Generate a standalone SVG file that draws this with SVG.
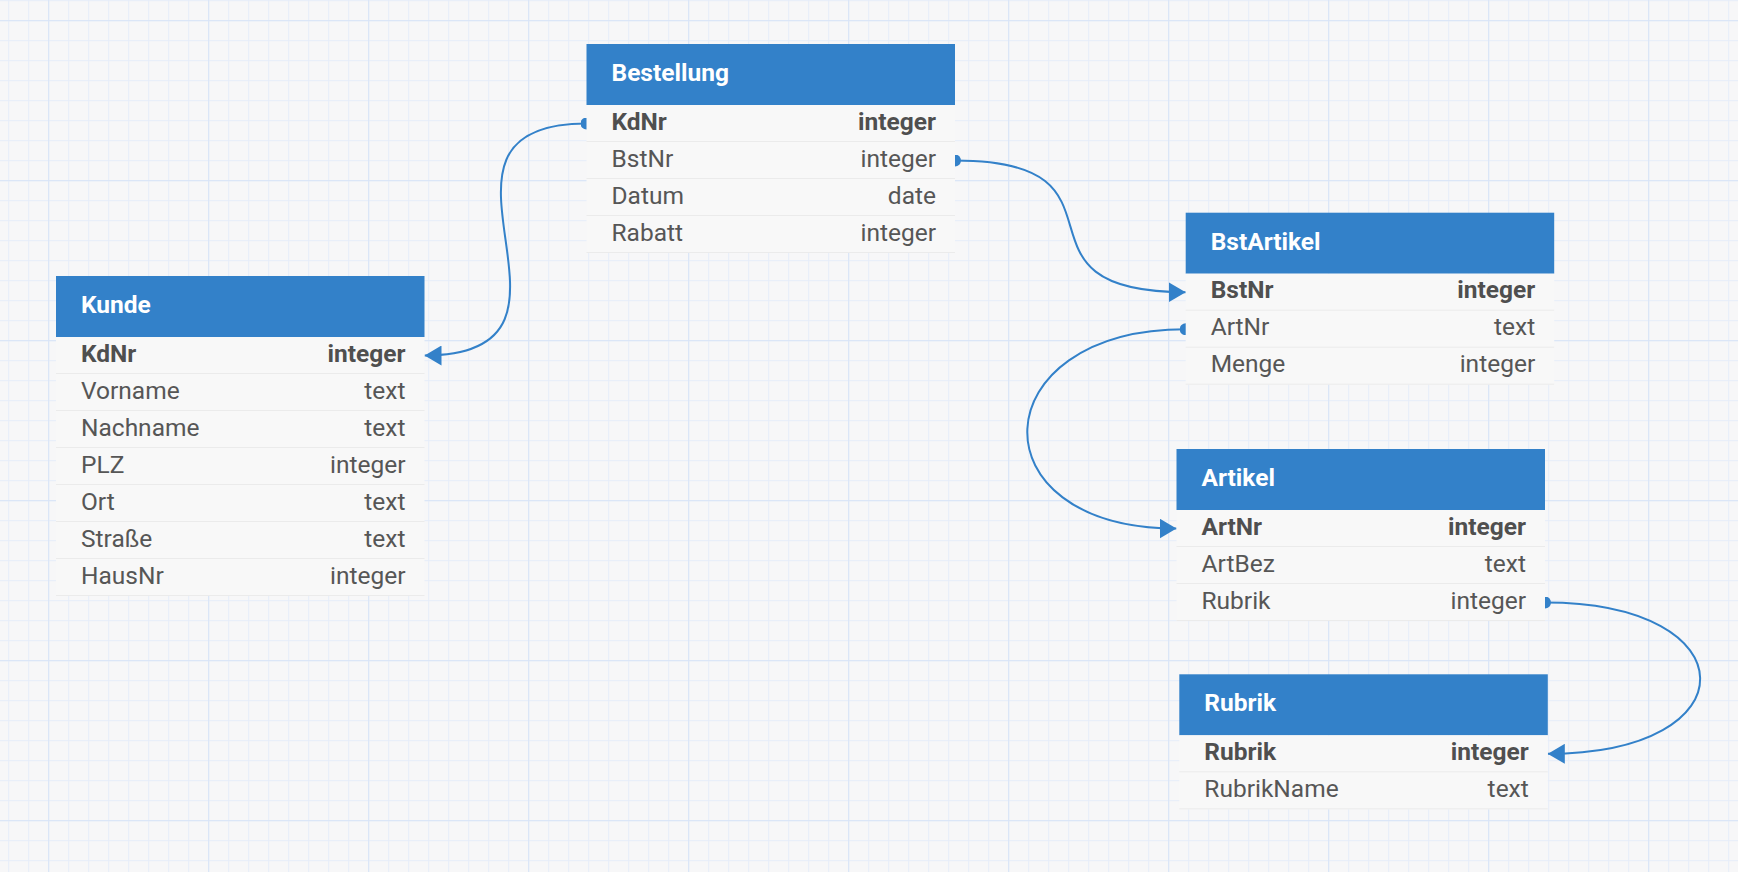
<svg xmlns="http://www.w3.org/2000/svg" width="1738" height="872" viewBox="0 0 1738 872">
<defs>
<style>
.hd{fill:#3381c9}
.rows{fill:#f8f8f8}
.sep{fill:#ebebeb}
.ht{font-family:Roboto,"Liberation Sans",sans-serif;font-size:24.5px;font-weight:bold;fill:#ffffff}
.f{font-family:Roboto,"Liberation Sans",sans-serif;font-size:24.5px;fill:#565656}
.k{font-weight:bold;fill:#4f4f4f}
.t{text-anchor:end}
.c{fill:none;stroke:#3381c9;stroke-width:2}
</style>
<pattern id="minor" x="8.2" y="0.2" width="20" height="20" patternUnits="userSpaceOnUse">
<rect x="0" y="0" width="1" height="20" fill="#e6edf9"/>
<rect x="0" y="0" width="20" height="1" fill="#e6edf9"/>
</pattern>
<pattern id="major" x="48.2" y="20.2" width="160" height="160" patternUnits="userSpaceOnUse">
<rect x="0" y="0" width="1" height="160" fill="#d8e4f7"/>
<rect x="0" y="0" width="160" height="1" fill="#d8e4f7"/>
</pattern>
<marker id="arrow" viewBox="0 0 17 20" markerWidth="17" markerHeight="20" refX="17" refY="10" orient="auto" markerUnits="userSpaceOnUse">
<path d="M0,0 L17,10 L0,20 Z" fill="#3381c9"/>
</marker>
<marker id="dot" viewBox="0 0 12 12" markerWidth="12" markerHeight="12" refX="6" refY="6" markerUnits="userSpaceOnUse">
<circle cx="6" cy="6" r="6" fill="#3381c9"/>
</marker>
</defs>
<rect x="0" y="0" width="1738" height="872" fill="#f7f7f8"/>
<rect x="0" y="0" width="1738" height="872" fill="url(#minor)"/>
<rect x="0" y="0" width="1738" height="872" fill="url(#major)"/>

<g id="connectors">
<path class="c" d="M586.5,123.5 C391.5,123.5 619.5,355.5 424.5,355.5" marker-start="url(#dot)" marker-end="url(#arrow)"/>
<path class="c" d="M955,160.5 C1147,160.5 993.7,292.2 1185.7,292.2" marker-start="url(#dot)" marker-end="url(#arrow)"/>
<path class="c" d="M1185.7,329.2 C980.7,329.2 971.5,528.5 1176.5,528.5" marker-start="url(#dot)" marker-end="url(#arrow)"/>
<path class="c" d="M1545,602.5 C1750,602.5 1752.8,753.8 1547.8,753.8" marker-start="url(#dot)" marker-end="url(#arrow)"/>
</g>

<g id="node-kunde" transform="translate(56,276)">
<rect class="hd" x="0" y="0" width="368.5" height="61"/>
<rect class="rows" x="0" y="61" width="368.5" height="259"/>
<rect class="sep" x="0" y="97" width="368.5" height="1"/>
<rect class="sep" x="0" y="134" width="368.5" height="1"/>
<rect class="sep" x="0" y="171" width="368.5" height="1"/>
<rect class="sep" x="0" y="208" width="368.5" height="1"/>
<rect class="sep" x="0" y="245" width="368.5" height="1"/>
<rect class="sep" x="0" y="282" width="368.5" height="1"/>
<rect class="sep" x="0" y="319" width="368.5" height="1"/>
<text class="ht" x="25" y="37">Kunde</text>
<text class="f k" x="25" y="85.5">KdNr</text><text class="f k t" x="349.5" y="85.5">integer</text>
<text class="f" x="25" y="122.5">Vorname</text><text class="f t" x="349.5" y="122.5">text</text>
<text class="f" x="25" y="159.5">Nachname</text><text class="f t" x="349.5" y="159.5">text</text>
<text class="f" x="25" y="196.5">PLZ</text><text class="f t" x="349.5" y="196.5">integer</text>
<text class="f" x="25" y="233.5">Ort</text><text class="f t" x="349.5" y="233.5">text</text>
<text class="f" x="25" y="270.5">Straße</text><text class="f t" x="349.5" y="270.5">text</text>
<text class="f" x="25" y="307.5">HausNr</text><text class="f t" x="349.5" y="307.5">integer</text>
</g>

<g id="node-bestellung" transform="translate(586.5,44)">
<rect class="hd" x="0" y="0" width="368.5" height="61"/>
<rect class="rows" x="0" y="61" width="368.5" height="148"/>
<rect class="sep" x="0" y="97" width="368.5" height="1"/>
<rect class="sep" x="0" y="134" width="368.5" height="1"/>
<rect class="sep" x="0" y="171" width="368.5" height="1"/>
<rect class="sep" x="0" y="208" width="368.5" height="1"/>
<text class="ht" x="25" y="37">Bestellung</text>
<text class="f k" x="25" y="85.5">KdNr</text><text class="f k t" x="349.5" y="85.5">integer</text>
<text class="f" x="25" y="122.5">BstNr</text><text class="f t" x="349.5" y="122.5">integer</text>
<text class="f" x="25" y="159.5">Datum</text><text class="f t" x="349.5" y="159.5">date</text>
<text class="f" x="25" y="196.5">Rabatt</text><text class="f t" x="349.5" y="196.5">integer</text>
</g>

<g id="node-bstartikel" transform="translate(1185.7,212.7)">
<rect class="hd" x="0" y="0" width="368.5" height="61"/>
<rect class="rows" x="0" y="61" width="368.5" height="111"/>
<rect class="sep" x="0" y="97" width="368.5" height="1"/>
<rect class="sep" x="0" y="134" width="368.5" height="1"/>
<rect class="sep" x="0" y="171" width="368.5" height="1"/>
<text class="ht" x="25" y="37">BstArtikel</text>
<text class="f k" x="25" y="85.5">BstNr</text><text class="f k t" x="349.5" y="85.5">integer</text>
<text class="f" x="25" y="122.5">ArtNr</text><text class="f t" x="349.5" y="122.5">text</text>
<text class="f" x="25" y="159.5">Menge</text><text class="f t" x="349.5" y="159.5">integer</text>
</g>

<g id="node-artikel" transform="translate(1176.5,449)">
<rect class="hd" x="0" y="0" width="368.5" height="61"/>
<rect class="rows" x="0" y="61" width="368.5" height="111"/>
<rect class="sep" x="0" y="97" width="368.5" height="1"/>
<rect class="sep" x="0" y="134" width="368.5" height="1"/>
<rect class="sep" x="0" y="171" width="368.5" height="1"/>
<text class="ht" x="25" y="37">Artikel</text>
<text class="f k" x="25" y="85.5">ArtNr</text><text class="f k t" x="349.5" y="85.5">integer</text>
<text class="f" x="25" y="122.5">ArtBez</text><text class="f t" x="349.5" y="122.5">text</text>
<text class="f" x="25" y="159.5">Rubrik</text><text class="f t" x="349.5" y="159.5">integer</text>
</g>

<g id="node-rubrik" transform="translate(1179.3,674.3)">
<rect class="hd" x="0" y="0" width="368.5" height="61"/>
<rect class="rows" x="0" y="61" width="368.5" height="74"/>
<rect class="sep" x="0" y="97" width="368.5" height="1"/>
<rect class="sep" x="0" y="134" width="368.5" height="1"/>
<text class="ht" x="25" y="37">Rubrik</text>
<text class="f k" x="25" y="85.5">Rubrik</text><text class="f k t" x="349.5" y="85.5">integer</text>
<text class="f" x="25" y="122.5">RubrikName</text><text class="f t" x="349.5" y="122.5">text</text>
</g>
</svg>
